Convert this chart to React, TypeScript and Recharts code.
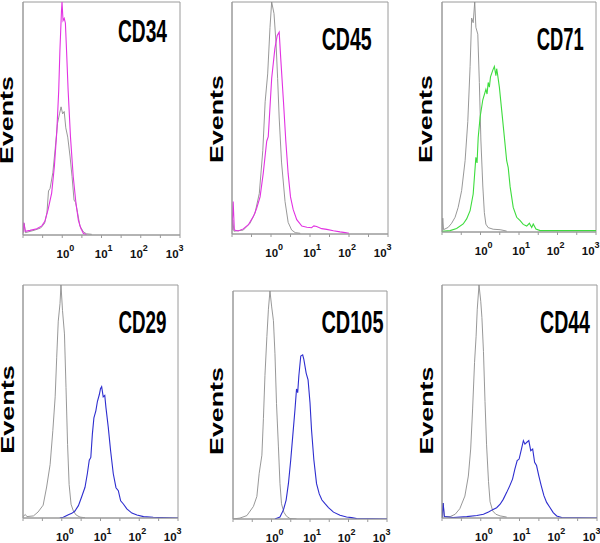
import React from 'react';
import { LineChart, Line, XAxis, YAxis, ReferenceArea } from 'recharts';

// x = log10(fluorescence intensity), v = relative events (% of panel full scale)
const xTicks = [-1, -0.5, 0, 0.5, 1, 1.5, 2, 2.5, 3];
const yTicks = [0, 12.5, 25, 37.5, 50, 62.5, 75, 87.5, 100];
const decadeLabels = ['10', '10', '10', '10'];
const decadeExponents = ['0', '1', '2', '3'];
const markers = ['CD34', 'CD45', 'CD71', 'CD29', 'CD105', 'CD44'];
const yLabel = 'Events';

type Pt = [number, number];

const cd34Control: Pt[] = [[-1, 1], [-0.97, 5], [-0.94, 1], [-0.72, 2], [-0.55, 3], [-0.45, 5], [-0.39, 9.6], [-0.35, 18.9], [-0.31, 20], [-0.24, 26.7], [-0.18, 37], [-0.12, 48], [-0.07, 52], [-0.03, 55], [0.01, 52], [0.05, 53], [0.09, 46], [0.14, 42], [0.2, 33.5], [0.25, 25], [0.3, 15], [0.34, 14], [0.39, 9.6], [0.45, 3.9], [0.54, 1.3], [0.62, 0.5], [0.75, 0.3]];
const cd34Stain: Pt[] = [[-1, 1], [-0.98, 5.3], [-0.94, 1.6], [-0.82, 2], [-0.65, 2.7], [-0.52, 3.9], [-0.44, 6], [-0.36, 11], [-0.27, 18], [-0.2, 29.6], [-0.14, 44], [-0.09, 62], [-0.06, 79], [-0.02, 96], [-0.006, 100], [0.02, 92], [0.05, 93], [0.08, 91], [0.11, 79], [0.15, 62], [0.21, 42], [0.28, 25], [0.35, 13.5], [0.41, 6.4], [0.47, 3], [0.54, 0.6], [0.62, 0.2]];

const cd45Control: Pt[] = [[-1, 1.7], [-0.98, 6], [-0.95, 1.2], [-0.71, 1.7], [-0.54, 4.6], [-0.41, 9], [-0.3, 17.5], [-0.21, 36], [-0.15, 57], [-0.085, 69], [-0.026, 89], [0.017, 100], [0.077, 95], [0.13, 82], [0.17, 67], [0.21, 50], [0.27, 31], [0.36, 14], [0.44, 5], [0.53, 1.7], [0.62, 0.6], [0.75, 0.3]];
const cd45Stain: Pt[] = [[-1, 1.7], [-0.97, 14], [-0.94, 1.7], [-0.84, 1.3], [-0.71, 2.2], [-0.58, 4], [-0.45, 7.6], [-0.37, 11], [-0.28, 16], [-0.2, 26], [-0.11, 40], [-0.07, 42], [0.017, 67], [0.1, 80], [0.16, 85.6], [0.21, 87], [0.25, 75.6], [0.32, 57], [0.38, 40], [0.44, 26], [0.5, 16], [0.57, 10.5], [0.66, 6.2], [0.79, 3.4], [0.92, 2.9], [1.04, 2.7], [1.1, 3.5], [1.17, 3.2], [1.3, 2.3], [1.43, 2], [1.6, 1.4], [1.77, 0.9], [1.9, 0.6], [2.0, 0.3]];

const cd71Control: Pt[] = [[-1, 0.3], [-0.98, 6], [-0.96, 1], [-0.84, 2], [-0.75, 3.8], [-0.66, 6.4], [-0.58, 10.7], [-0.49, 18], [-0.4, 31], [-0.33, 48], [-0.27, 72], [-0.23, 93], [-0.19, 91], [-0.15, 100], [-0.12, 89], [-0.07, 86], [-0.03, 65], [0.01, 40], [0.06, 20], [0.1, 8.4], [0.14, 3.4], [0.2, 1.9], [0.33, 1.2], [0.51, 1], [0.68, 0.4]];
const cd71Stain: Pt[] = [[-1, 0.3], [-0.79, 0.6], [-0.62, 1.5], [-0.45, 3.5], [-0.36, 5.7], [-0.27, 9.3], [-0.19, 16.5], [-0.12, 32.5], [-0.09, 30], [-0.06, 41], [-0.01, 50], [0.06, 57.5], [0.14, 62], [0.17, 60], [0.2, 65], [0.23, 63], [0.26, 67.5], [0.32, 70.4], [0.36, 72], [0.4, 68], [0.42, 71], [0.44, 69], [0.49, 63], [0.55, 53], [0.61, 42.9], [0.68, 31], [0.72, 28], [0.77, 19.6], [0.85, 10.7], [0.94, 6.4], [1.03, 4.9], [1.11, 3.3], [1.2, 2.6], [1.27, 3.8], [1.33, 2], [1.37, 3.5], [1.44, 1.3], [1.55, 0.6], [3, 0.6]];

const cd29Control: Pt[] = [[-1, 0.6], [-0.94, 1.5], [-0.9, 0.6], [-0.73, 0.9], [-0.61, 2.6], [-0.48, 5.5], [-0.39, 13.3], [-0.3, 23], [-0.23, 37.5], [-0.17, 52], [-0.13, 69], [-0.09, 84.5], [-0.045, 92], [-0.02, 100], [0.02, 89], [0.07, 79], [0.11, 56], [0.15, 31.6], [0.19, 14.4], [0.24, 5.9], [0.3, 3], [0.37, 1.3], [0.47, 0.4], [0.6, 0.1]];
const cd29Stain: Pt[] = [[-0.05, 0], [0.04, 0.3], [0.17, 1.4], [0.26, 2], [0.34, 3], [0.43, 5.3], [0.51, 8.9], [0.6, 13.2], [0.66, 19], [0.71, 24.8], [0.75, 26], [0.79, 36], [0.83, 43], [0.88, 46], [0.92, 50], [0.97, 53], [1.0, 55.5], [1.03, 56.4], [1.07, 52], [1.11, 52.6], [1.14, 47.5], [1.2, 39], [1.26, 29], [1.33, 19], [1.4, 13], [1.46, 11.7], [1.52, 7.4], [1.59, 6], [1.68, 3.9], [1.81, 2.1], [1.94, 1.3], [2.11, 0.6], [2.36, 0.3], [3, 0]];

const cd105Control: Pt[] = [[-1, 0], [-0.82, 0.4], [-0.64, 1.5], [-0.47, 5.5], [-0.38, 9.9], [-0.32, 20], [-0.25, 28], [-0.21, 44], [-0.17, 63], [-0.12, 80], [-0.08, 92], [-0.04, 100], [0.005, 93], [0.05, 87], [0.09, 72.5], [0.13, 50.6], [0.18, 31.6], [0.22, 15.5], [0.26, 6.7], [0.32, 3], [0.39, 1.2], [0.48, 0.2], [0.65, 0]];
const cd105Stain: Pt[] = [[0.09, 0], [0.22, 0.9], [0.31, 4], [0.38, 8.3], [0.44, 15.6], [0.5, 26], [0.55, 36], [0.61, 48], [0.65, 57], [0.68, 55.4], [0.71, 62.7], [0.76, 71.5], [0.81, 72], [0.84, 70], [0.9, 64], [0.95, 61], [1.0, 51], [1.04, 39], [1.1, 26], [1.17, 15.5], [1.24, 11], [1.31, 8.3], [1.39, 6.7], [1.48, 5], [1.61, 3], [1.78, 1.6], [1.95, 0.9], [2.08, 0.6], [2.21, 0.2], [3, 0]];

const cd44Control: Pt[] = [[-1, 0], [-0.97, 6.4], [-0.94, 0.6], [-0.79, 0.6], [-0.66, 1.6], [-0.54, 4], [-0.41, 9.4], [-0.32, 18], [-0.26, 29.6], [-0.21, 46.8], [-0.16, 66.8], [-0.12, 78], [-0.09, 89.6], [-0.045, 100], [0, 93], [0.03, 86], [0.07, 71.5], [0.11, 50], [0.15, 31.4], [0.2, 15.6], [0.24, 7], [0.31, 3], [0.39, 1.6], [0.5, 0.9], [0.67, 0.4]];
const cd44Stain: Pt[] = [[-1, 0], [-0.97, 6.4], [-0.94, 0.6], [-0.71, 0.2], [-0.36, 0.6], [-0.1, 1.1], [0.07, 1.6], [0.2, 2.6], [0.32, 3.7], [0.41, 4.4], [0.5, 5.9], [0.58, 8], [0.67, 11], [0.75, 13.9], [0.82, 16.7], [0.88, 21], [0.94, 24.6], [0.99, 25.3], [1.05, 29.6], [1.1, 33.2], [1.14, 31.7], [1.19, 32.5], [1.24, 33.2], [1.29, 28.9], [1.34, 29.6], [1.39, 23.9], [1.44, 22.5], [1.5, 18], [1.56, 13.9], [1.63, 9.6], [1.7, 6.7], [1.79, 4.4], [1.87, 2.3], [1.96, 0.9], [2.09, 0.2], [3, 0]];

const controls = [cd34Control, cd45Control, cd71Control, cd29Control, cd105Control, cd44Control];
const stains = [cd34Stain, cd45Stain, cd71Stain, cd29Stain, cd105Stain, cd44Stain];

// layout / style
const MAGENTA = '#e232e2';
const GREEN = '#3ddc3d';
const BLUE = '#2d2dcf';
const GRAY = '#8c8c8c';
const BOX = '#9a9a9a';
const stainColors = [MAGENTA, MAGENTA, GREEN, BLUE, BLUE, BLUE];

// plot box: L, R, T, B ; title: cx, baseline, horizontal scale ; events: baseline x, center y, scale
const boxes = [
  { L: 23, R: 180, T: 2, B: 235 },
  { L: 232, R: 388, T: 2, B: 234 },
  { L: 442, R: 596, T: 2, B: 232 },
  { L: 23, R: 178, T: 285, B: 518 },
  { L: 233, R: 387, T: 291, B: 519 },
  { L: 442, R: 597, T: 285, B: 518 },
];
const titlePos = [
  { x: 142.5, y: 41.7, s: 0.619 },
  { x: 346.7, y: 50, s: 0.631 },
  { x: 560.3, y: 50, s: 0.593 },
  { x: 142.5, y: 333.3, s: 0.606 },
  { x: 352.5, y: 333.3, s: 0.643 },
  { x: 565, y: 333.3, s: 0.631 },
];
const eventsPos = [
  { x: 13.3, y: 120, s: 1.49 },
  { x: 222.7, y: 119, s: 1.49 },
  { x: 432.3, y: 119, s: 1.49 },
  { x: 14, y: 409.5, s: 1.5 },
  { x: 223.3, y: 411, s: 1.49 },
  { x: 432.7, y: 410.5, s: 1.49 },
];
const labelShift = [-0.5, -1.5, -5.5, -9];

const toPoints = (arr: Pt[]) => arr.map(([x, v]) => ({ x, v }));

const TICK_FONT = '"Liberation Sans Narrow", "Arial Narrow", "Liberation Sans", Arial, sans-serif';
const TITLE_FONT = '"Liberation Sans", Arial, sans-serif';

const LogTick = (props: any) => {
  const { x, y, payload } = props;
  const v = payload.value;
  if (!Number.isInteger(v) || v < 0) return <g />;
  const i = v as number;
  const cx = x + labelShift[i];
  return (
    <text x={cx - 5.2} y={y + 18} textAnchor="start" fontFamily={TICK_FONT} fontSize={11.5} fontWeight="bold" fill="#111">
      {decadeLabels[i]}
      <tspan dy={-7} fontSize={9}>{decadeExponents[i]}</tspan>
    </text>
  );
};

const YW = 20;
const PADT = 5;
const PADR = 6;
const XH = 32;

function Panel({ idx }: { idx: number }) {
  const b = boxes[idx];
  const width = b.R - b.L + YW + PADR;
  const height = b.B - b.T + PADT + XH;
  return (
    <div style={{ position: 'absolute', left: b.L - YW, top: b.T - PADT, width, height }}>
      <LineChart width={width} height={height} margin={{ top: PADT, right: PADR, left: 0, bottom: 0 }}>
        <XAxis
          type="number"
          dataKey="x"
          domain={[-1, 3]}
          allowDataOverflow
          ticks={xTicks}
          interval={0}
          tickSize={3}
          tickMargin={2}
          height={XH}
          axisLine={{ stroke: BOX }}
          tickLine={{ stroke: BOX }}
          tick={<LogTick />}
        />
        <YAxis
          type="number"
          domain={[0, 100]}
          allowDataOverflow
          ticks={yTicks}
          interval={0}
          width={YW}
          tickSize={3}
          tick={false}
          axisLine={{ stroke: BOX }}
          tickLine={{ stroke: BOX }}
        />
        <ReferenceArea x1={-1} x2={3} y1={0} y2={100} fill="none" fillOpacity={0} stroke={BOX} strokeWidth={1} />
        <Line
          data={toPoints(controls[idx])}
          dataKey="v"
          type="linear"
          stroke={GRAY}
          strokeWidth={0.9}
          dot={false}
          isAnimationActive={false}
        />
        <Line
          data={toPoints(stains[idx])}
          dataKey="v"
          type="linear"
          stroke={stainColors[idx]}
          strokeWidth={1.1}
          dot={false}
          isAnimationActive={false}
        />
      </LineChart>
    </div>
  );
}

export default function App() {
  return (
    <div style={{ position: 'absolute', left: 0, top: 0, width: 600, height: 543, background: '#fff', overflow: 'hidden' }}>
      {markers.map((_, i) => (
        <Panel key={i} idx={i} />
      ))}
      <svg width={600} height={543} style={{ position: 'absolute', left: 0, top: 0, pointerEvents: 'none' }}>
        {markers.map((m, i) => (
          <text
            key={'t' + i}
            transform={`translate(${titlePos[i].x},${titlePos[i].y}) scale(${titlePos[i].s},1)`}
            textAnchor="middle"
            fontFamily={TITLE_FONT}
            fontWeight="bold"
            fontSize={31}
            fill="#000"
          >
            {m}
          </text>
        ))}
        {eventsPos.map((p, i) => (
          <text
            key={'e' + i}
            transform={`translate(${p.x},${p.y}) rotate(-90) scale(${p.s},1)`}
            textAnchor="middle"
            fontFamily={TITLE_FONT}
            fontWeight="bold"
            fontSize={18}
            fill="#000"
          >
            {yLabel}
          </text>
        ))}
      </svg>
    </div>
  );
}
